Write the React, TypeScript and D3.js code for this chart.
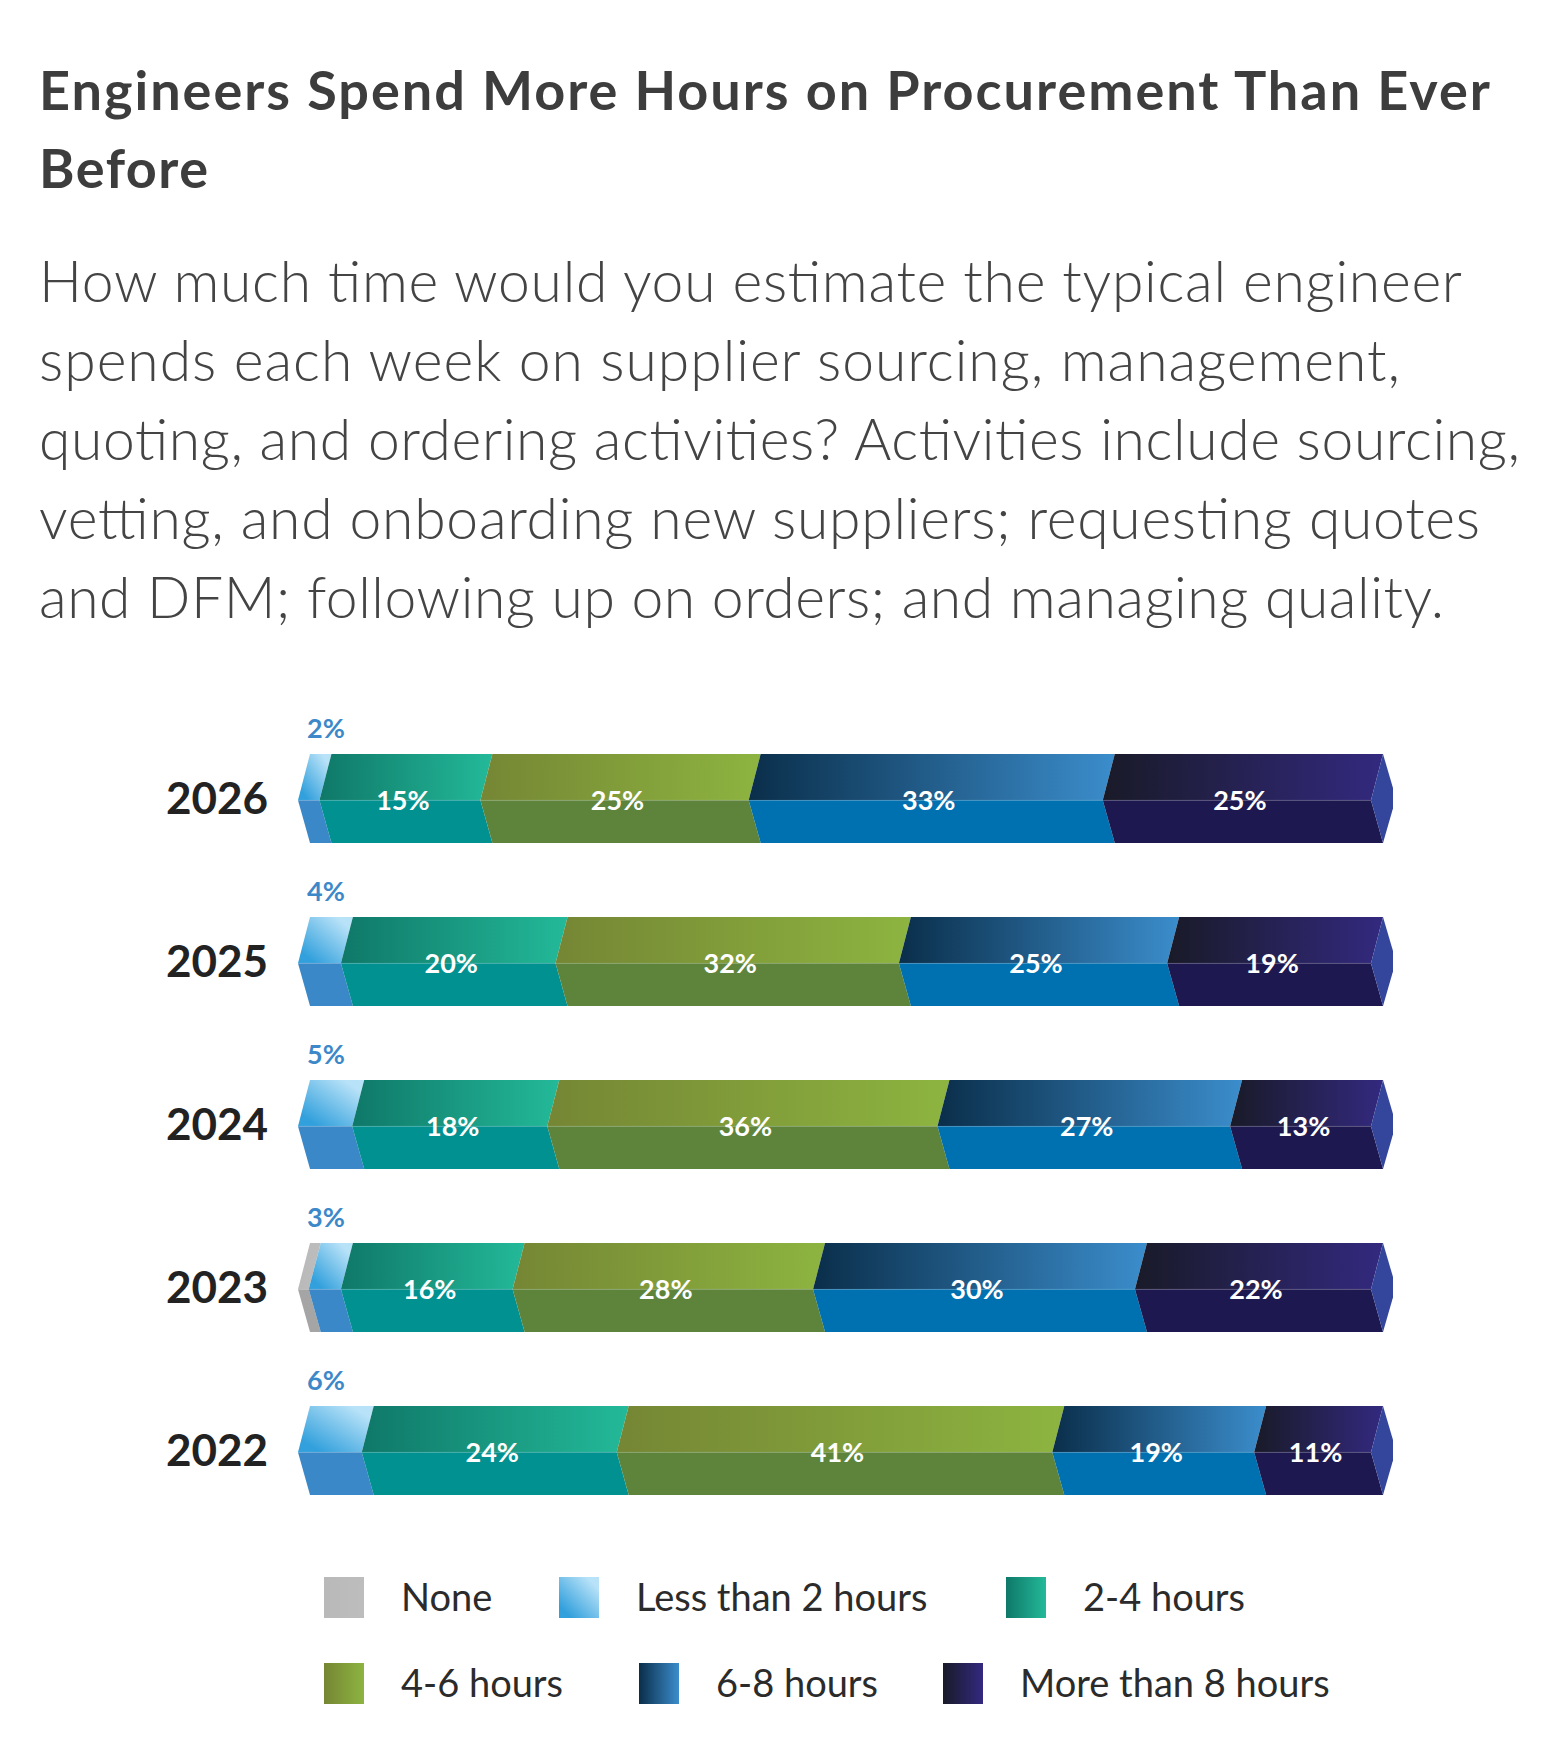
import { useEffect } from "react";
import { scaleBand, scaleLinear, stack, sum } from "d3";

// Survey data, one value per year (top to bottom)
const years = ["2026", "2025", "2024", "2023", "2022"];
const keys = ["none", "lt2", "h24", "h46", "h68", "gt8"];
const legendLabels = ["None", "Less than 2 hours", "2-4 hours", "4-6 hours", "6-8 hours", "More than 8 hours"];
const noneValues = [0, 0, 0, 1, 0];
const lessThan2Values = [2, 4, 5, 3, 6];
const h2to4Values = [15, 20, 18, 16, 24];
const h4to6Values = [25, 32, 36, 28, 41];
const h6to8Values = [33, 25, 27, 30, 19];
const moreThan8Values = [25, 19, 13, 22, 11];

const titleLines = ["Engineers Spend More Hours on Procurement Than Ever", "Before"];
const subtitleLines = [
  "How much time would you estimate the typical engineer",
  "spends each week on supplier sourcing, management,",
  "quoting, and ordering activities? Activities include sourcing,",
  "vetting, and onboarding new suppliers; requesting quotes",
  "and DFM; following up on orders; and managing quality.",
];

type Row = { year: string; [k: string]: number | string };

const table: Row[] = years.map((year, i) => ({
  year,
  none: noneValues[i],
  lt2: lessThan2Values[i],
  h24: h2to4Values[i],
  h46: h4to6Values[i],
  h68: h6to8Values[i],
  gt8: moreThan8Values[i],
}));

// colours: gradient start / end for the top face, solid colour for the lower face
const palette: Record<string, { from: string; to: string; low: string }> = {
  none: { from: "#b9b9b9", to: "#bdbdbd", low: "#a5a5a5" },
  lt2: { from: "#32a0dc", to: "#b8e2f8", low: "#3b88c8" },
  h24: { from: "#0f7868", to: "#23b999", low: "#009190" },
  h46: { from: "#758634", to: "#8db440", low: "#5e843b" },
  h68: { from: "#0a2e4a", to: "#3b8dcc", low: "#0071b0" },
  gt8: { from: "#191a28", to: "#33297f", low: "#1e1850" },
};
const capColor = "#33469c";

// layout
const W = 1548;
const H = 1749;
const barLeft = 310;
const barRight = 1383;
const notch = 12;
const font = "Lato, 'Noto Sans', sans-serif";

const titleWidths = [1451, 169];
const subtitleWidths = [1423, 1361, 1481, 1441, 1405];
const legendPos = [
  { x: 324, row: 0 },
  { x: 559, row: 0 },
  { x: 1006, row: 0 },
  { x: 324, row: 1 },
  { x: 639, row: 1 },
  { x: 943, row: 1 },
];
const legendRows = [1597, 1683];

export default function App() {
  useEffect(() => {
    document.body.style.margin = "0";
  }, []);

  const series = stack<Row>()
    .keys(keys)
    .value((d, k) => d[k] as number)(table);

  const yScale = scaleBand<string>()
    .domain(years)
    .range([754, 1495])
    .paddingInner(0.454)
    .paddingOuter(0);
  const bh = yScale.bandwidth();
  const midFrac = 0.52;

  const pts = (p: [number, number][]) => p.map((q) => q.join(",")).join(" ");

  return (
    <svg width={W} height={H} style={{ display: "block", background: "#fff" }}>
      <defs>
        {keys.map((k) =>
          k === "lt2" ? (
            <linearGradient key={k} id={`top-${k}`} x1="0" y1="1" x2="1" y2="0">
              <stop offset="0.15" stopColor={palette[k].from} />
              <stop offset="0.85" stopColor={palette[k].to} />
            </linearGradient>
          ) : (
            <linearGradient key={k} id={`top-${k}`} x1="0" y1="0" x2="1" y2="0">
              <stop offset="0" stopColor={palette[k].from} />
              <stop offset="1" stopColor={palette[k].to} />
            </linearGradient>
          )
        )}
      </defs>

      {/* Title */}
      {titleLines.map((t, i) => (
        <text
          key={t}
          x={39}
          y={110 + i * 78}
          fontFamily={font}
          fontWeight={700}
          fontSize={54}
          fill="#3d3d3d"
          textLength={titleWidths[i]}
          lengthAdjust="spacing"
        >
          {t}
        </text>
      ))}

      {/* Question */}
      {subtitleLines.map((t, i) => (
        <text
          key={t}
          x={39}
          y={302 + i * 79}
          fontFamily={font}
          fontWeight={300}
          fontSize={57}
          fill="#444"
          textLength={subtitleWidths[i]}
          lengthAdjust="spacing"
        >
          {t}
        </text>
      ))}

      {/* Bars */}
      {table.map((row, ri) => {
        const total = sum(keys, (k) => row[k] as number);
        const x = scaleLinear().domain([0, total]).range([barLeft, barRight]);
        const top = yScale(row.year)!;
        const bottom = top + bh;
        const mid = top + bh * midFrac;
        return (
          <g key={row.year}>
            <text
              x={268}
              y={top + bh / 2}
              dy="0.35em"
              textAnchor="end"
              fontFamily={font}
              fontWeight={700}
              fontSize={44}
              fill="#222"
            >
              {row.year}
            </text>
            {series.map((s) => {
              const [v0, v1] = s[ri];
              if (v1 - v0 <= 0) return null;
              const x0 = x(v0);
              const x1 = x(v1);
              const c = palette[s.key];
              return (
                <g key={s.key}>
                  <polygon
                    points={pts([
                      [x0, top],
                      [x1, top],
                      [x1 - notch, mid],
                      [x0 - notch, mid],
                    ])}
                    fill={`url(#top-${s.key})`}
                  />
                  <polygon
                    points={pts([
                      [x0 - notch, mid],
                      [x1 - notch, mid],
                      [x1, bottom],
                      [x0, bottom],
                    ])}
                    fill={c.low}
                  />
                </g>
              );
            })}
            {/* right end cap */}
            <polygon
              points={pts([
                [barRight, top],
                [barRight + 10, top + 34],
                [barRight + 10, mid + 8],
                [barRight, bottom],
                [barRight - notch, mid],
              ])}
              fill={capColor}
            />
            <line x1={barLeft - notch} x2={barRight - notch} y1={mid} y2={mid} stroke="#ffffff" strokeOpacity={0.12} />
            {/* value labels */}
            {series.map((s) => {
              const [v0, v1] = s[ri];
              const v = v1 - v0;
              if (v <= 0 || s.key === "none") return null;
              if (s.key === "lt2") {
                return (
                  <text
                    key={s.key}
                    x={barLeft - 3}
                    y={top - 16}
                    fontFamily={font}
                    fontWeight={700}
                    fontSize={27}
                    fill="#3d88c8"
                  >
                    {`${v}%`}
                  </text>
                );
              }
              return (
                <text
                  key={s.key}
                  x={(x(v0) + x(v1)) / 2 - 9}
                  y={mid}
                  dy="0.36em"
                  textAnchor="middle"
                  fontFamily={font}
                  fontWeight={700}
                  fontSize={27}
                  fill="#fff"
                >
                  {`${v}%`}
                </text>
              );
            })}
          </g>
        );
      })}

      {/* Legend */}
      {keys.map((k, i) => {
        const p = legendPos[i];
        const cy = legendRows[p.row];
        return (
          <g key={k}>
            <rect x={p.x} y={cy - 20} width={40} height={41} fill={`url(#top-${k})`} />
            <text
              x={p.x + 77}
              y={cy}
              dy="0.36em"
              fontFamily={font}
              fontSize={38}
              fill="#2b2b2b"
            >
              {legendLabels[i]}
            </text>
          </g>
        );
      })}
    </svg>
  );
}
